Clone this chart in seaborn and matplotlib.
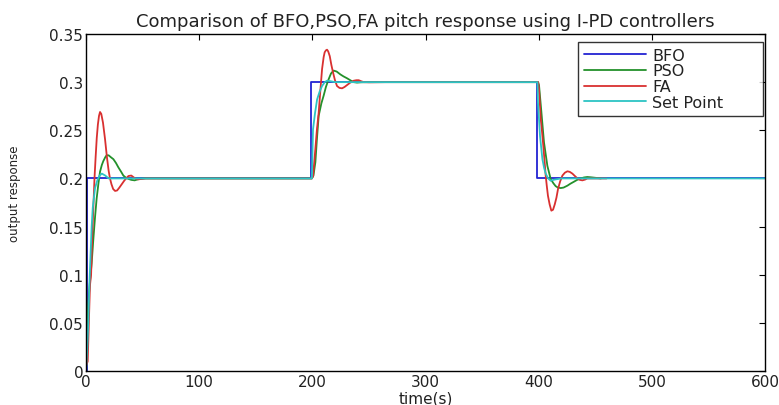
import matplotlib
matplotlib.use("Agg")
import matplotlib.pyplot as plt
import seaborn as sns

# BFO response (an ideal step, drawn as a staircase)
bfo_t = [0, 0.6, 0.6, 199, 199, 398.8, 398.8, 600]
bfo_v = [0, 0, 0.2, 0.2, 0.3, 0.3, 0.2, 0.2]

# PSO response
pso_t = [0, 1, 2, 3.3, 5, 6.5, 8, 9.4, 11, 12.4, 14, 15.3, 17, 18.2, 20, 22, 24.2, 26.5, 28.6, 31, 33, 35, 37.5, 40, 43, 47, 52, 60,
         199.5, 201, 202.7, 204, 205.6, 208, 210, 212, 214.4, 216.5, 218.8, 221.5, 224.8, 227.5, 230.7, 233.5, 236.6, 239.5, 242.5, 248, 265,
         399.5, 400.3, 402.4, 404.7, 407.7, 410.6, 413, 415, 417, 419.5, 422, 425.4, 428, 431.2, 434, 437.2, 440, 443, 446, 449, 455]
pso_v = [0, 0.04, 0.07, 0.09, 0.112, 0.137, 0.16, 0.179, 0.195, 0.207, 0.214, 0.218, 0.222, 0.224, 0.224, 0.222, 0.22, 0.216, 0.2115, 0.207, 0.203, 0.201, 0.1995, 0.1985, 0.198, 0.1995, 0.2, 0.2,
         0.2, 0.203, 0.217, 0.24, 0.265, 0.278, 0.286, 0.295, 0.303, 0.309, 0.312, 0.311, 0.308, 0.306, 0.304, 0.302, 0.3, 0.2995, 0.2998, 0.3, 0.3,
         0.3, 0.297, 0.269, 0.2375, 0.213, 0.1994, 0.195, 0.192, 0.1905, 0.19, 0.1905, 0.1925, 0.1945, 0.1966, 0.1985, 0.2, 0.201, 0.2015, 0.2012, 0.2008, 0.2]

# FA response
fa_t = [0, 1.5, 2.5, 3.5, 4.5, 5.5, 6.5, 7.5, 8.5, 9.5, 10.5, 11.5, 12.4, 13.5, 15, 16.8, 18.5, 20, 21.2, 22.5, 24, 25.7, 27.5, 29.5, 31.6, 34, 37.5, 40, 43.4, 46, 49, 53, 60,
        199.5, 200.6, 202.7, 204, 205.6, 207, 208.6, 210, 210.9, 212, 213, 214, 215.4, 216.8, 218.3, 220, 221.8, 224, 226.3, 228.5, 230.7, 233.5, 236.6, 239, 241, 243, 245.4, 250, 265,
        399.5, 400.3, 401.8, 403, 404.1, 405.2, 406.2, 407.2, 408.2, 409.7, 411.2, 412.7, 414.2, 415.7, 417.1, 419, 421, 423.2, 425.4, 427.5, 429.8, 432, 434.2, 436.4, 438.6, 441, 443, 450, 460]
fa_v = [0.005, 0.01, 0.05, 0.089, 0.1, 0.14, 0.17, 0.2, 0.222, 0.242, 0.256, 0.265, 0.269, 0.267, 0.258, 0.241, 0.222, 0.208, 0.2, 0.194, 0.189, 0.187, 0.1875, 0.1905, 0.194, 0.198, 0.2025, 0.203, 0.2, 0.199, 0.1995, 0.2, 0.2,
        0.2, 0.202, 0.231, 0.25, 0.268, 0.29, 0.3136, 0.326, 0.331, 0.333, 0.3337, 0.332, 0.327, 0.318, 0.31, 0.302, 0.296, 0.294, 0.2936, 0.295, 0.297, 0.2995, 0.3015, 0.302, 0.302, 0.301, 0.3, 0.2998, 0.3,
        0.3, 0.293, 0.262, 0.248, 0.234, 0.218, 0.203, 0.192, 0.182, 0.173, 0.1665, 0.1675, 0.173, 0.18, 0.189, 0.197, 0.203, 0.206, 0.2074, 0.2068, 0.205, 0.2025, 0.2001, 0.1985, 0.198, 0.1988, 0.2, 0.2, 0.2]

# Set point trace
sp_t = [0, 1, 2, 3, 4, 5, 6, 8, 10, 12, 14, 17, 20, 25,
        199.6, 200.6, 202.4, 204.2, 206.4, 208.6, 211, 213, 216, 220,
        398.9, 399.4, 401.2, 403.3, 404.8, 406.2, 408.4, 410.6, 413, 415, 420, 600]
sp_v = [0, 0.02, 0.05, 0.09, 0.12, 0.15, 0.17, 0.19, 0.198, 0.203, 0.205, 0.203, 0.2, 0.2,
        0.2, 0.251, 0.268, 0.282, 0.29, 0.296, 0.3, 0.3015, 0.301, 0.3,
        0.3, 0.279, 0.244, 0.22, 0.211, 0.205, 0.2, 0.1976, 0.1985, 0.199, 0.2, 0.2]

series = [
    ("BFO", bfo_t, bfo_v, "#2323d2"),
    ("PSO", pso_t, pso_v, "#23912b"),
    ("FA", fa_t, fa_v, "#d93030"),
    ("Set Point", sp_t, sp_v, "#2cc4c4"),
]

y_ticks = [0, 0.05, 0.1, 0.15, 0.2, 0.25, 0.3, 0.35]
y_tick_labels = ["0", "0.05", "0.1", "0.15", "0.2", "0.25", "0.3", "0.35"]
x_ticks = [0, 100, 200, 300, 400, 500, 600]

sns.set_style("white")
plt.rcParams["font.family"] = ["DejaVu Sans"]

fig = plt.figure(figsize=(7.79, 4.06), dpi=100)
ax = fig.add_axes([86 / 779, 34 / 406, 679 / 779, 337 / 406])

for name, t, v, color in series:
    sns.lineplot(x=t, y=v, ax=ax, label=name, color=color, linewidth=1.3,
                 estimator=None, sort=False)

ax.set_xlim(0, 600)
ax.set_ylim(0, 0.35)
ax.set_xticks(x_ticks)
ax.set_xticklabels([str(x) for x in x_ticks])
ax.set_yticks(y_ticks)
ax.set_yticklabels(y_tick_labels)
ax.tick_params(direction="in", top=True, right=True, length=4, width=0.8,
               labelsize=11, colors="black", labelcolor="#222222", pad=2)
for spine in ax.spines.values():
    spine.set_visible(True)
    spine.set_color("black")
    spine.set_linewidth(1.0)

ax.set_title("Comparison of BFO,PSO,FA pitch response using I-PD controllers",
             fontsize=13, color="#222222", pad=6)
ax.set_xlabel("time(s)", fontsize=11, color="#222222")
ax.xaxis.set_label_coords(0.5, -0.058)
ax.set_ylabel("output response", fontsize=8.5, color="#222222")
ax.yaxis.set_label_coords(-0.095, 0.53)

leg = ax.legend(loc="upper left", bbox_to_anchor=(0.7246, 0.5, 0.2725, 0.476),
                mode="expand", borderaxespad=0,
                fontsize=11.5, handlelength=3.9, handletextpad=0.4, labelspacing=0.05,
                frameon=True, fancybox=False, borderpad=0.35)
leg.get_frame().set_edgecolor("black")
leg.get_frame().set_linewidth(1.0)
for text in leg.get_texts():
    text.set_color("#222222")

fig.savefig("out.png", dpi=100)
